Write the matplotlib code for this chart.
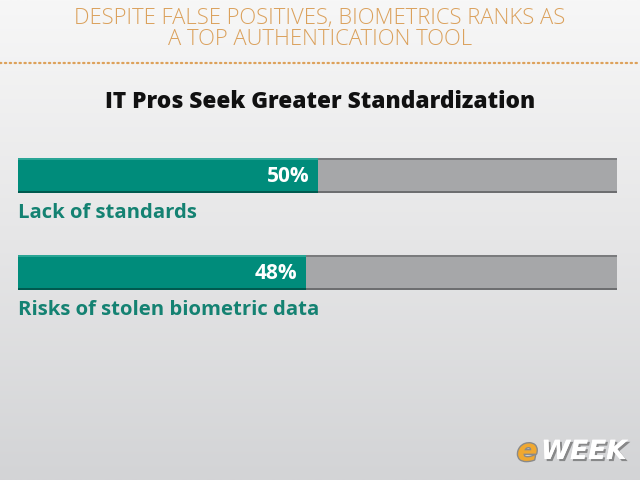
import numpy as np
import matplotlib
matplotlib.use("Agg")
import matplotlib.pyplot as plt
from matplotlib import patheffects as pe
from matplotlib.colors import LinearSegmentedColormap

categories = ["Lack of standards", "Risks of stolen biometric data"]
values = [50, 48]
value_labels = ["50%", "48%"]
header = "DESPITE FALSE POSITIVES, BIOMETRICS RANKS AS\nA TOP AUTHENTICATION TOOL"
title = "IT Pros Seek Greater Standardization"

W, H = 640, 480
fig = plt.figure(figsize=(6.4, 4.8), dpi=100)

# background gradient
bg = fig.add_axes([0, 0, 1, 1])
bg.set_xlim(0, W)
bg.set_ylim(H, 0)
bg.axis("off")
grad = np.linspace(0, 1, 256).reshape(-1, 1)
cmap = LinearSegmentedColormap.from_list("bg", ["#f7f7f7", "#e6e6e7", "#d3d4d6"])
bg.imshow(grad, aspect="auto", cmap=cmap, extent=[0, W, H, 0], zorder=0)

# header
bg.text(W / 2, 29, header, ha="center", va="center", color="#dba15c",
        fontsize=15.8, family="Open Sans", fontweight="light", linespacing=1.0)
# dotted line
bg.plot([0, W], [63, 63], linestyle=(0, (0.6, 1.6)), color="#dda15a", lw=1.6,
        solid_capstyle="round", dash_capstyle="round")
# title
bg.text(W / 2, 102, title, ha="center", va="center", color="#111111",
        fontsize=16.3, family="Open Sans", fontweight="heavy")

# bar axes
x0, x1 = 18, 617
ax = fig.add_axes([x0 / W, 1 - 290 / H, (x1 - x0) / W, (290 - 158) / H])
ax.set_xlim(0, 100)
ax.set_ylim(1.18, -0.18)
ax.axis("off")
ypos = np.arange(len(categories))
bh = 0.36
ax.barh(ypos, [100] * len(values), height=bh, color="#a6a7a9", zorder=1)
ax.barh(ypos, values, height=bh, color="#008c7b", zorder=2)
# subtle shading edges
ax.barh(ypos + bh / 2 - 0.012, [100] * len(values), height=0.024, color="#6d6e70", zorder=1.5)
ax.barh(ypos + bh / 2 - 0.012, values, height=0.024, color="#005a4f", zorder=2.5)
ax.barh(ypos - bh / 2 + 0.01, values, height=0.02, color="#2aa595", zorder=2.5)
ax.barh(ypos - bh / 2 + 0.01, [100] * len(values), height=0.02, color="#7a7b7d", zorder=1.5)

for i, (v, lab, cat) in enumerate(zip(values, value_labels, categories)):
    ax.text(v - 1.3, i + 0.01, lab, ha="right", va="center", color="white",
            fontsize=15, family="Open Sans", fontweight="bold")
    ax.text(0, i + 0.39, cat, ha="left", va="center", color="#148272",
            fontsize=14.6, family="Open Sans", fontweight="bold")

# logo
bg.text(517, 452, "e", ha="left", va="center", color="#f0a830", fontsize=22,
        family="DejaVu Sans", fontweight="bold", style="italic",
        path_effects=[pe.withStroke(linewidth=2, foreground="#8a8a8a")])
bg.text(541, 452, "WEEK", ha="left", va="center", color="white", fontsize=19,
        family="DejaVu Sans", fontweight="bold", style="italic",
        path_effects=[pe.withSimplePatchShadow(offset=(1.5, -1.5), shadow_rgbFace="#555555", alpha=0.6), pe.Normal()])

fig.savefig("out.png", dpi=100)
